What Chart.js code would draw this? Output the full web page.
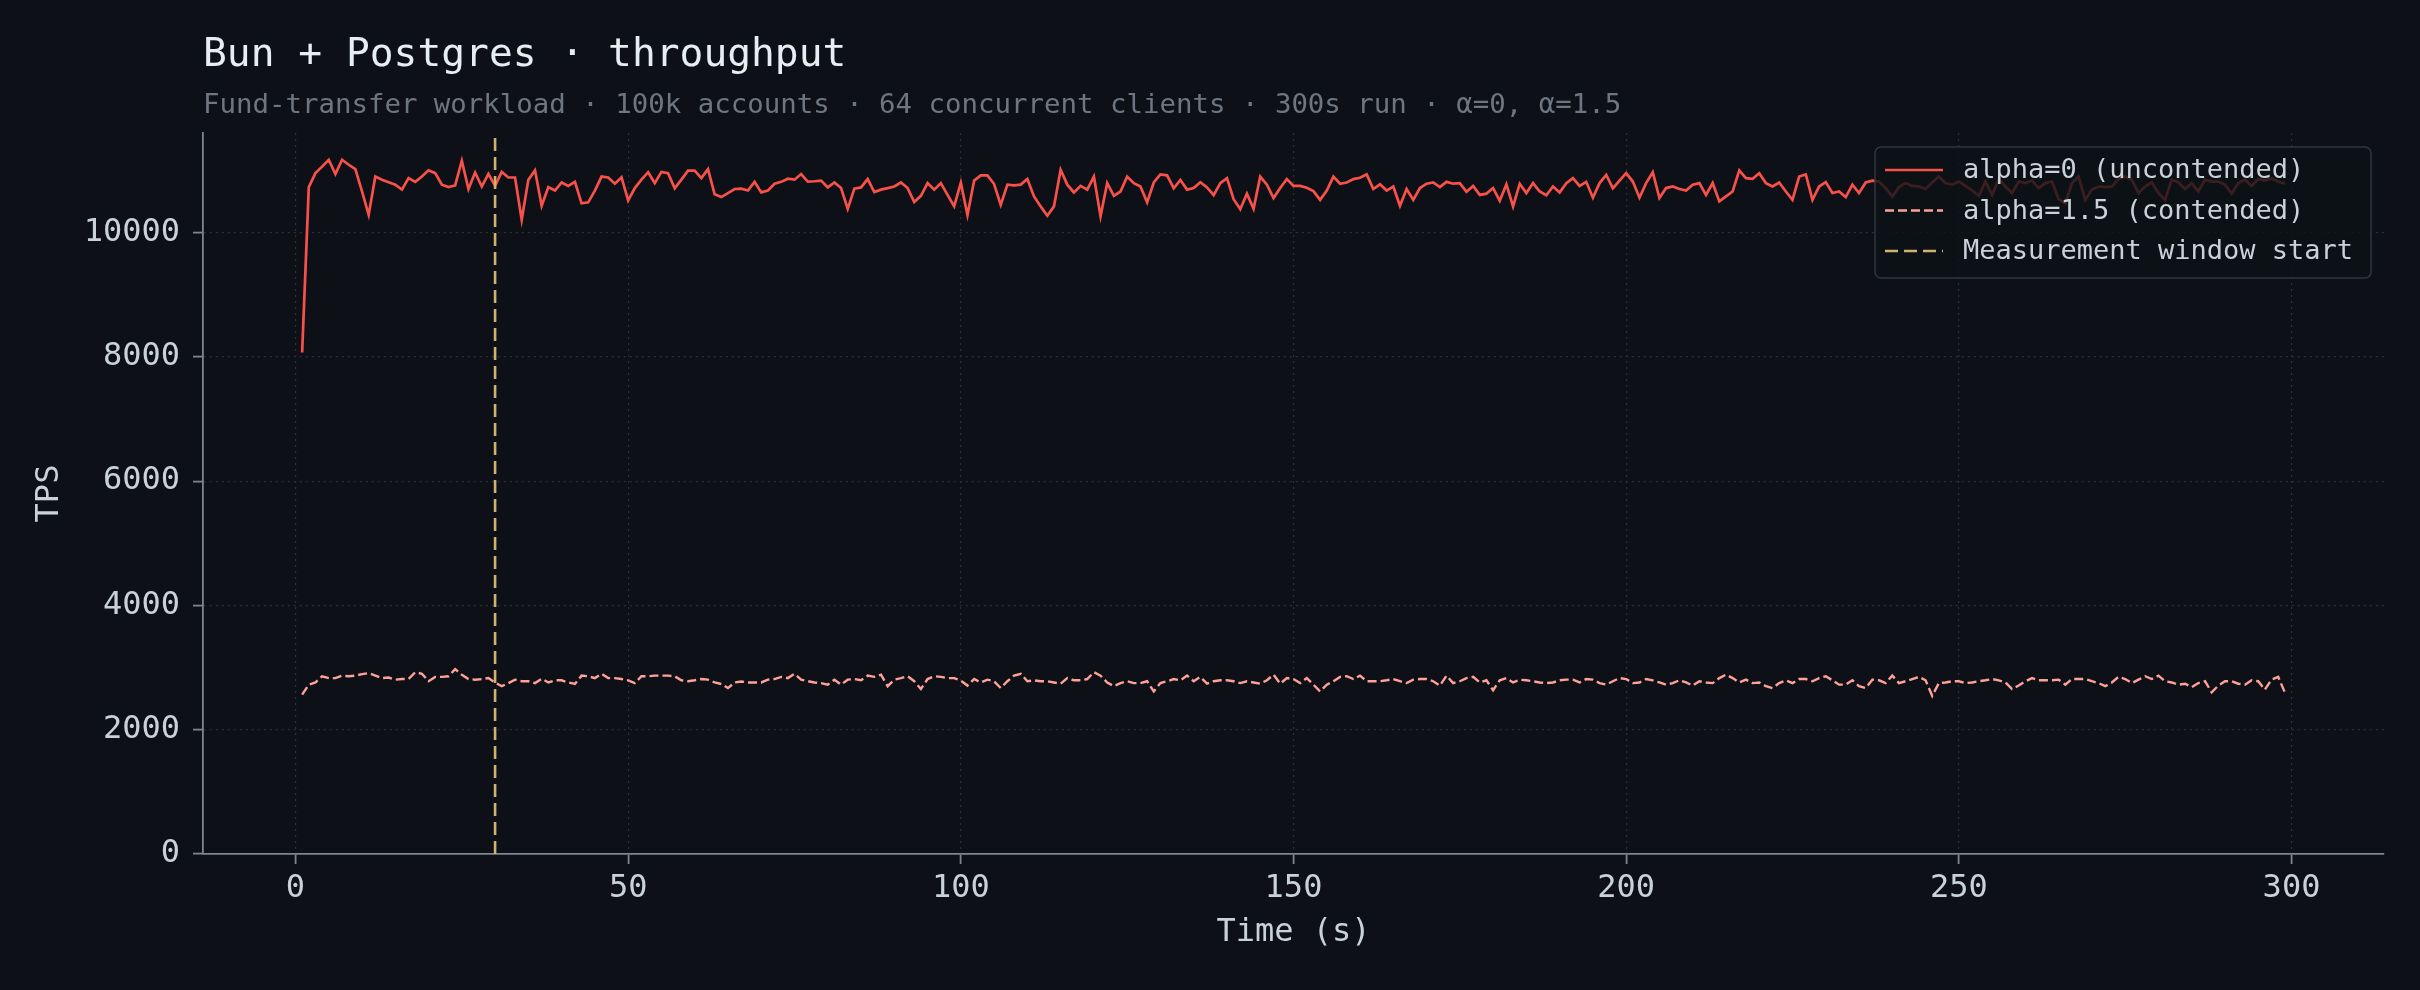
<!DOCTYPE html>
<html>
<head>
<meta charset="utf-8">
<script src="https://cdn.jsdelivr.net/npm/chart.js@4.4.1/dist/chart.umd.min.js"></script>
<style>
  html, body { margin: 0; padding: 0; background: #0d1117; }
  canvas { display: block; }
</style>
</head>
<body>
<canvas id="chartThroughput" width="2420" height="990"></canvas>
<script>
// --- data ---
const seconds = Array.from({ length: 299 }, (_, i) => i + 1);

const tpsUncontended = [
  8070, 10730, 10955, 11060, 11170, 10940, 11170, 11090, 11020, 10660,
  10285, 10900, 10850, 10810, 10770, 10690, 10875, 10815, 10900, 11000,
  10955, 10770, 10730, 10757, 11155, 10700, 10965, 10740, 10945, 10750,
  10975, 10885, 10885, 10205, 10850, 11000, 10430, 10730, 10675, 10805,
  10750, 10815, 10470, 10485, 10675, 10900, 10885, 10785, 10890, 10515,
  10715, 10850, 10970, 10795, 10975, 10955, 10710, 10850, 10995, 10995,
  10875, 11020, 10615, 10570, 10635, 10700, 10705, 10675, 10815, 10645,
  10675, 10785, 10815, 10865, 10850, 10940, 10820, 10825, 10835, 10725,
  10805, 10715, 10380, 10705, 10725, 10860, 10650, 10690, 10715, 10740,
  10805, 10715, 10490, 10590, 10795, 10690, 10795, 10605, 10420, 10800,
  10280, 10835, 10920, 10920, 10780, 10445, 10770, 10757, 10770, 10860,
  10580, 10420, 10270, 10420, 11010, 10770, 10645, 10750, 10690, 10900,
  10260, 10795, 10590, 10660, 10900, 10795, 10740, 10485, 10805, 10935,
  10920, 10710, 10845, 10690, 10715, 10810, 10725, 10600, 10795, 10875,
  10535, 10375, 10625, 10380, 10900, 10770, 10555, 10715, 10860, 10750,
  10750, 10720, 10665, 10525, 10675, 10900, 10785, 10805, 10860, 10880,
  10935, 10700, 10775, 10675, 10740, 10430, 10700, 10525, 10715, 10785,
  10805, 10730, 10815, 10785, 10795, 10655, 10750, 10605, 10625, 10715,
  10510, 10775, 10420, 10785, 10635, 10795, 10660, 10600, 10740, 10645,
  10795, 10875, 10750, 10815, 10560, 10795, 10925, 10710, 10835, 10955,
  10820, 10560, 10795, 10970, 10555, 10715, 10740, 10700, 10675, 10770,
  10795, 10605, 10795, 10500, 10580, 10660, 11000, 10875, 10865, 10955,
  10795, 10740, 10805, 10660, 10525, 10900, 10935, 10525, 10740, 10810,
  10635, 10660, 10570, 10770, 10635, 10805, 10835, 10820, 10715, 10580,
  10730, 10795, 10750, 10740, 10700, 10805, 10900, 10795, 10770, 10820,
  10750, 10675, 10590, 10820, 10605, 10860, 10740, 10635, 10820, 10795,
  10835, 10715, 10795, 10820, 10535, 10470, 10795, 10900, 10525, 10690,
  10740, 10730, 10740, 10860, 10900, 10850, 10635, 10740, 10805, 10635,
  10525, 10850, 10805, 10700, 10795, 10660, 10850, 10820, 10820, 10770,
  10625, 10795, 10850, 10750, 10860, 10835, 10870, 10820, 10785
];

const tpsContended = [
  2565, 2725, 2760, 2860, 2830, 2830, 2870, 2860, 2870, 2895,
  2910, 2870, 2830, 2840, 2805, 2815, 2815, 2925, 2900, 2780,
  2850, 2850, 2860, 2975, 2885, 2815, 2805, 2815, 2830, 2760,
  2700, 2750, 2805, 2780, 2780, 2750, 2820, 2760, 2795, 2795,
  2760, 2735, 2870, 2860, 2830, 2900, 2830, 2830, 2815, 2795,
  2750, 2860, 2860, 2870, 2870, 2870, 2860, 2795, 2780, 2795,
  2815, 2805, 2760, 2735, 2670, 2760, 2775, 2760, 2760, 2760,
  2805, 2815, 2850, 2830, 2900, 2805, 2780, 2760, 2750, 2725,
  2805, 2725, 2805, 2815, 2795, 2870, 2850, 2885, 2700, 2805,
  2830, 2860, 2780, 2655, 2815, 2860, 2850, 2830, 2830, 2790,
  2710, 2815, 2760, 2805, 2780, 2670, 2780, 2870, 2900, 2780,
  2795, 2780, 2780, 2760, 2740, 2830, 2795, 2795, 2815, 2925,
  2870, 2760, 2700, 2750, 2780, 2750, 2750, 2780, 2615, 2750,
  2780, 2815, 2795, 2870, 2780, 2850, 2740, 2780, 2795, 2795,
  2780, 2750, 2780, 2760, 2740, 2795, 2885, 2740, 2830, 2815,
  2750, 2830, 2725, 2615, 2725, 2780, 2850, 2860, 2815, 2870,
  2780, 2780, 2780, 2795, 2815, 2780, 2750, 2805, 2815, 2815,
  2780, 2710, 2870, 2750, 2780, 2830, 2850, 2760, 2795, 2635,
  2795, 2830, 2760, 2805, 2795, 2780, 2760, 2750, 2760, 2795,
  2805, 2805, 2760, 2815, 2805, 2750, 2725, 2780, 2830, 2815,
  2750, 2760, 2815, 2795, 2760, 2725, 2750, 2795, 2760, 2710,
  2780, 2760, 2750, 2830, 2885, 2830, 2760, 2805, 2750, 2760,
  2700, 2670, 2750, 2795, 2750, 2815, 2815, 2780, 2830, 2860,
  2795, 2725, 2725, 2795, 2700, 2670, 2805, 2795, 2750, 2870,
  2750, 2780, 2815, 2850, 2795, 2545, 2750, 2760, 2780, 2780,
  2750, 2760, 2780, 2795, 2815, 2795, 2760, 2655, 2710, 2780,
  2830, 2795, 2795, 2795, 2805, 2725, 2815, 2815, 2815, 2780,
  2750, 2700, 2760, 2850, 2815, 2750, 2805, 2860, 2815, 2870,
  2780, 2760, 2725, 2740, 2685, 2750, 2780, 2600, 2710, 2780,
  2780, 2740, 2725, 2795, 2780, 2645, 2805, 2850, 2600
];

const measurementStart = 30;
const xTicks = [0, 50, 100, 150, 200, 250, 300];
const yTicks = [0, 2000, 4000, 6000, 8000, 10000];
const seriesLabels = ["alpha=0 (uncontended)", "alpha=1.5 (contended)", "Measurement window start"];
const chartTitle = "Bun + Postgres · throughput";
const chartSubtitle = "Fund-transfer workload · 100k accounts · 64 concurrent clients · 300s run · α=0, α=1.5";

const X_MIN = -13.9, X_MAX = 313.9, Y_MAX = 11601;
const MONO = "'DejaVu Sans Mono', 'Liberation Mono', monospace";
const TEXT = "#c9d1d9";
const SPINE = "#7d8590";

const toPoints = (ys) => seconds.map((s, i) => ({ x: s, y: ys[i] }));

// background, title and subtitle
const frame = {
  id: "frame",
  beforeDraw(chart) {
    const { ctx, width, height } = chart;
    ctx.save();
    ctx.fillStyle = "#0d1117";
    ctx.fillRect(0, 0, width, height);
    ctx.restore();
  },
  afterDraw(chart) {
    const { ctx, chartArea } = chart;
    ctx.save();
    ctx.textAlign = "left";
    ctx.textBaseline = "alphabetic";
    ctx.fillStyle = "#e6edf3";
    ctx.font = "39.6px " + MONO;
    ctx.fillText(chartTitle, chartArea.left, 66);
    ctx.fillStyle = "#6e7681";
    ctx.font = "27.4px " + MONO;
    ctx.fillText(chartSubtitle, chartArea.left, 113);
    ctx.restore();
  },
};

// legend box inside the plot, upper right
const insideLegend = {
  id: "insideLegend",
  afterDatasetsDraw(chart) {
    const { ctx, chartArea } = chart;
    const w = 496, h = 131;
    const x = chartArea.right - 13 - w;
    const y = chartArea.top + 14;
    ctx.save();
    ctx.beginPath();
    ctx.roundRect(x, y, w, h, 6);
    ctx.fillStyle = "rgba(13, 17, 23, 0.8)";
    ctx.fill();
    ctx.strokeStyle = "#30363d";
    ctx.lineWidth = 1.5;
    ctx.stroke();
    ctx.font = "27px " + MONO;
    ctx.textBaseline = "middle";
    chart.data.datasets.forEach((ds, i) => {
      const ry = y + 23 + i * 40.5;
      ctx.setLineDash(ds.borderDash || []);
      ctx.strokeStyle = ds.borderColor;
      ctx.lineWidth = ds.borderWidth;
      ctx.beginPath();
      ctx.moveTo(x + 10, ry);
      ctx.lineTo(x + 68, ry);
      ctx.stroke();
      ctx.setLineDash([]);
      ctx.fillStyle = TEXT;
      ctx.fillText(ds.label, x + 88, ry + 1);
    });
    ctx.restore();
  },
};

const ctx = document.getElementById("chartThroughput");
new Chart(ctx, {
  type: "line",
  data: {
    datasets: [
      {
        label: seriesLabels[0],
        data: toPoints(tpsUncontended),
        borderColor: "#f85149",
        borderWidth: 2.7,
        pointRadius: 0,
        tension: 0,
        order: 3,
      },
      {
        label: seriesLabels[1],
        data: toPoints(tpsContended),
        borderColor: "#ffa198",
        borderWidth: 2.4,
        borderDash: [9, 4],
        pointRadius: 0,
        tension: 0,
        order: 2,
      },
      {
        label: seriesLabels[2],
        data: [{ x: measurementStart, y: 0 }, { x: measurementStart, y: Y_MAX }],
        borderColor: "#cdb270",
        borderWidth: 2.6,
        borderDash: [13, 6],
        pointRadius: 0,
        order: 1,
      },
    ],
  },
  options: {
    responsive: false,
    devicePixelRatio: 1,
    animation: false,
    layout: { padding: { top: 133, right: 36, left: 0, bottom: 0 } },
    plugins: { legend: { display: false }, tooltip: { enabled: false } },
    scales: {
      x: {
        type: "linear",
        min: X_MIN,
        max: X_MAX,
        afterFit: (scale) => { scale.height = 136; },
        afterBuildTicks: (scale) => { scale.ticks = xTicks.map((v) => ({ value: v })); },
        ticks: { color: TEXT, font: { family: MONO, size: 32 }, padding: 5, maxRotation: 0, callback: (v) => String(v) },
        grid: { color: "#2a3038", lineWidth: 1.2, tickColor: SPINE, tickLength: 10, tickWidth: 1.8 },
        border: { color: SPINE, width: 1.8, dash: [2, 4] },
        title: { display: true, text: "Time (s)", color: TEXT, font: { family: MONO, size: 32 }, padding: { bottom: 38 } },
      },
      y: {
        type: "linear",
        min: 0,
        max: Y_MAX,
        afterFit: (scale) => { scale.width = 203; },
        afterBuildTicks: (scale) => { scale.ticks = yTicks.map((v) => ({ value: v })); },
        ticks: { color: TEXT, font: { family: MONO, size: 32 }, padding: 13, callback: (v) => String(v) },
        grid: { color: "#2a3038", lineWidth: 1.2, tickColor: SPINE, tickLength: 10, tickWidth: 1.8 },
        border: { color: SPINE, width: 1.8, dash: [2, 4] },
        title: { display: true, text: "TPS", color: TEXT, font: { family: MONO, size: 32 }, padding: { top: 30 } },
      },
    },
  },
  plugins: [frame, insideLegend],
});
</script>
</body>
</html>
